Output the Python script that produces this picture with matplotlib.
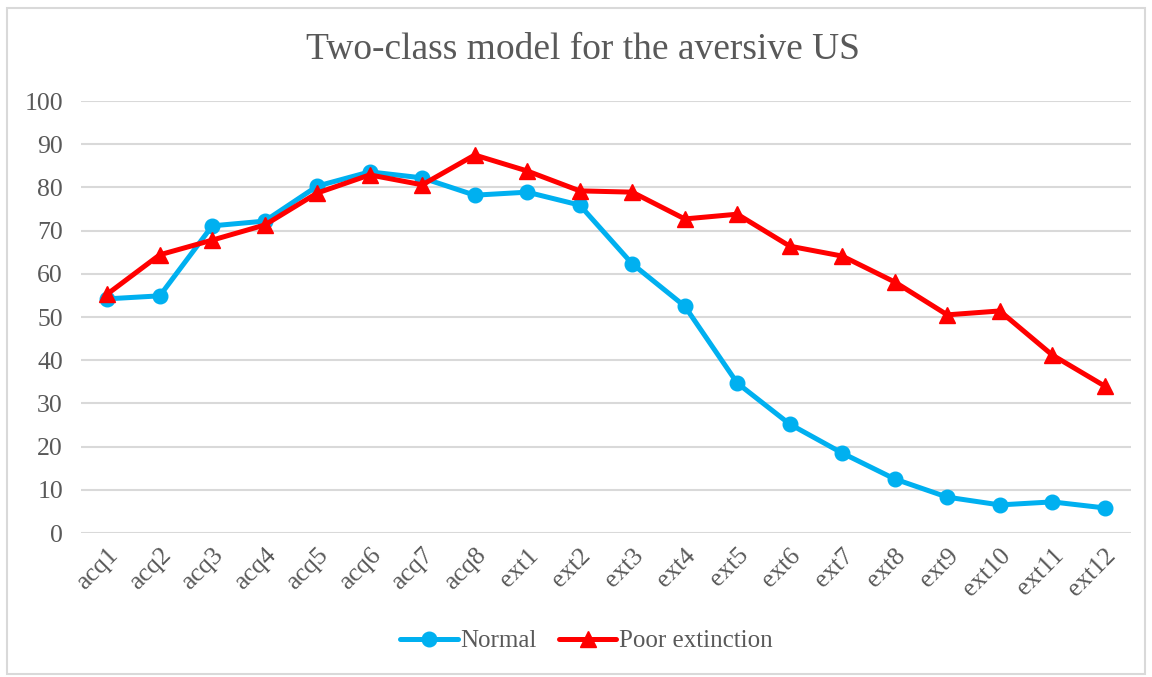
import matplotlib.pyplot as plt
from matplotlib.patches import Rectangle

categories = ["acq1", "acq2", "acq3", "acq4", "acq5", "acq6", "acq7", "acq8",
              "ext1", "ext2", "ext3", "ext4", "ext5", "ext6", "ext7", "ext8",
              "ext9", "ext10", "ext11", "ext12"]
normal = [54.2, 54.9, 71.1, 72.2, 80.3, 83.6, 82.2, 78.2, 78.9, 75.9,
          62.3, 52.5, 34.7, 25.2, 18.5, 12.5, 8.3, 6.5, 7.2, 5.8]
poor = [55.3, 64.4, 67.8, 71.3, 78.7, 82.9, 80.6, 87.5, 83.8, 79.2,
        78.9, 72.7, 73.8, 66.4, 64.1, 58.1, 50.5, 51.4, 41.2, 34.0]
yticks = list(range(0, 101, 10))

plt.rcParams['font.family'] = ['Liberation Serif', 'DejaVu Serif']
grey = '#595959'

fig = plt.figure(figsize=(11.52, 6.77), dpi=100)
ax = fig.add_axes([0.0703, 0.2127, 0.9115, 0.6381])

# outer chart border
fig.patches.append(Rectangle((0.006, 0.004), 0.988, 0.984, transform=fig.transFigure,
                             fill=False, edgecolor='#D9D9D9', linewidth=1.5))

x = range(len(categories))
ax.plot(x, normal, color='#00B0F0', linewidth=3.6, marker='o', markersize=10.5,
        label='Normal', solid_capstyle='round', zorder=3)
ax.plot(x, poor, color='#FF0000', linewidth=3.6, marker='^', markersize=11,
        label='Poor extinction', solid_capstyle='round', zorder=4)

ax.set_xlim(-0.5, len(categories) - 0.5)
ax.set_ylim(0, 100)
ax.set_yticks(yticks)
ax.set_xticks(list(x))
ax.set_xticklabels(categories, rotation=45, ha='right', rotation_mode='anchor')
ax.tick_params(axis='both', length=0, labelsize=18.5, colors=grey)
ax.tick_params(axis='y', pad=13)
ax.tick_params(axis='x', pad=8)
ax.grid(axis='y', color='#D9D9D9', linewidth=1.5)
ax.set_axisbelow(True)
for s in ax.spines.values():
    s.set_visible(False)

fig.text(0.506, 0.926, 'Two-class model for the aversive US', ha='center', va='center',
         fontsize=27, color=grey)

fig.legend(loc='center', bbox_to_anchor=(0.509, 0.053), ncol=2, frameon=False,
           fontsize=18, labelcolor=grey, handlelength=2.3, handletextpad=0.1,
           columnspacing=0.9)

fig.savefig('out.png', dpi=100)
